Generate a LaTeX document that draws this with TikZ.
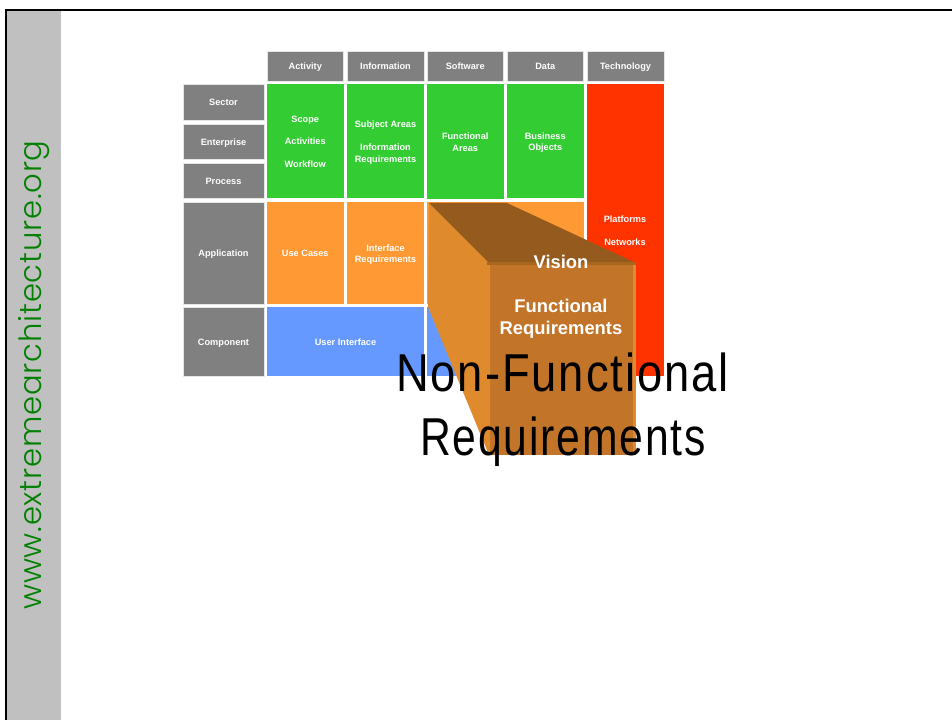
\documentclass[tikz,border=0pt]{standalone}
\usepackage{fontspec}
\setmainfont{Liberation Sans}
\newfontfamily\bigfont[LetterSpace=4.3]{Liberation Sans}
\newfontfamily\urlfont[LetterSpace=2.6]{Poppins Light}
\definecolor{cellgray}{HTML}{808080}
\definecolor{cellgreen}{HTML}{33CC33}
\definecolor{cellorange}{HTML}{FF9933}
\definecolor{cellblue}{HTML}{6699FF}
\definecolor{cellred}{HTML}{FF3300}
\definecolor{stripgray}{HTML}{C0C0C0}
\definecolor{boxtop}{HTML}{955A1E}
\definecolor{boxlip}{HTML}{A8661F}
\definecolor{boxside}{HTML}{E08A2E}
\definecolor{boxfront}{HTML}{C27428}
\definecolor{urlgreen}{HTML}{008000}
\tikzset{
  x=0.75pt,y=-0.75pt,
  cell/.style={anchor=north west,inner sep=0pt,outer sep=0pt,align=center,text=white,
    font=\fontsize{6.9}{8.6}\selectfont\bfseries},
  grayc/.style={cell,fill=cellgray,draw=white!80!cellgray,line width=0.3pt},
  greenc/.style={cell,fill=cellgreen},
  orangec/.style={cell,fill=cellorange},
  bluec/.style={cell,fill=cellblue},
  redc/.style={cell,fill=cellred},
  boxlabel/.style={inner sep=0pt,align=center,text=white,font=\fontsize{13.8}{16.5}\selectfont\bfseries},
  biglabel/.style={inner sep=0pt,anchor=base,text=black},
}
\newcommand{\cellnode}[7]{% style,name,x,y,w,h,text
  \node[#1,minimum width=#5*0.75pt,minimum height=#6*0.75pt] (#2) at (#3,#4) {\rule{0pt}{7.4pt}#7\vphantom{Ag}};}
\begin{document}
\begin{tikzpicture}
\useasboundingbox (0,0) rectangle (952,720);
\fill[white] (0,0) rectangle (952,720);
% frame and strip
\fill[stripgray] (6,10) rectangle (61,720);
\draw[black,line width=1.6pt] (6,720) -- (6,10) -- (952,10);
\node[rotate=90,inner sep=0pt,anchor=base,text=urlgreen,font=\fontsize{23}{25}\selectfont\urlfont] (url) at (41,375) {www.extremearchitecture.org};
% headers
\cellnode{grayc}{hact}{267}{51}{76.5}{30}{Activity}
\cellnode{grayc}{hinf}{347}{51}{77}{30}{Information}
\cellnode{grayc}{hsof}{427}{51}{76.5}{30}{Software}
\cellnode{grayc}{hdat}{507}{51}{76.5}{30}{Data}
\cellnode{grayc}{htec}{587}{51}{77}{30}{Technology}
% rows
\cellnode{grayc}{rsec}{183}{84}{81}{36}{Sector}
\cellnode{grayc}{rent}{183}{124}{81}{35}{Enterprise}
\cellnode{grayc}{rpro}{183}{163}{81}{35}{Process}
\cellnode{grayc}{rapp}{183}{202}{81}{102}{Application}
\cellnode{grayc}{rcom}{183}{307}{81}{69}{Component}
% green
\cellnode{greenc}{gact}{267}{84}{76.5}{114}{Scope\\[8.6pt]Activities\\[8.6pt]Workflow}
\cellnode{greenc}{ginf}{347}{84}{77}{114}{Subject Areas\\[8.6pt]Information\\Requirements}
\cellnode{greenc}{gsof}{427}{84}{76.5}{115}{Functional\\Areas}
\cellnode{greenc}{gdat}{507}{84}{76.5}{114}{Business\\Objects}
% orange
\cellnode{orangec}{oact}{267}{202}{76.5}{102}{Use Cases}
\cellnode{orangec}{oinf}{347}{202}{77}{102}{Interface\\Requirements}
\cellnode{orangec}{osof}{427}{202}{156.5}{102}{}
% blue
\cellnode{bluec}{bui}{267}{307}{157}{69}{User Interface}
\cellnode{bluec}{bsof}{427}{307}{77}{69}{}
% red
\node[redc,minimum width=77*0.75pt,minimum height=292*0.75pt] (rtec) at (587,84) {};
\node[inner sep=0pt,align=center,text=white,font=\fontsize{6.9}{8.6}\selectfont\bfseries] (rtxt) at (625,230.5) {Platforms\\[8.6pt]Networks};
% box
\fill[boxside] (429,203) -- (489,263) -- (489,455) -- (428,307) -- cycle;
\fill[boxtop] (429,203) -- (507,203) -- (636,263) -- (489,263) -- cycle;
\fill[boxside] (487,262) rectangle (636,455);
\fill[boxfront] (490,265) rectangle (633,455);
\fill[boxlip] (487,262) rectangle (636,265);
\node[boxlabel] (lvis) at (561,262) {Vision};
\node[boxlabel] (lfun) at (561,319) {Functional\\Requirements};
\node[biglabel] (lnon) at (562.5,391) {\scalebox{0.85}[1]{\fontsize{40}{48}\selectfont\bigfont Non-Functional}};
\node[biglabel] (lreq) at (563,455) {\scalebox{0.80}[1]{\fontsize{40}{48}\selectfont\bigfont Requirements}};
\end{tikzpicture}
\end{document}
